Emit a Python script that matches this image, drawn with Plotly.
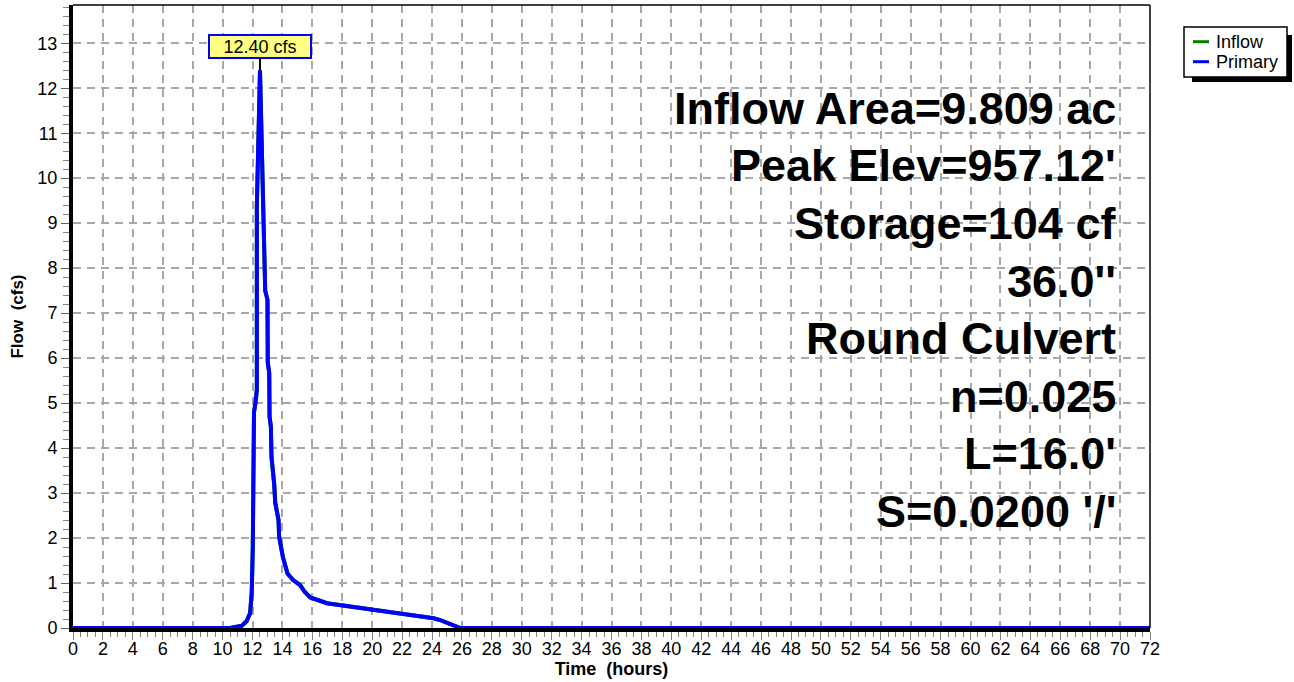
import plotly.graph_objects as go

# ---------------- data ----------------
time_hr = [0, 10.5, 11.29, 11.6, 11.84, 11.92, 11.95, 12.02, 12.06, 12.1, 12.2, 12.29, 12.29,
           12.4, 12.5, 12.6, 12.73, 12.8, 12.85, 13.0, 13.02, 13.12, 13.14, 13.23, 13.27, 13.45,
           13.52, 13.74, 13.78, 14.03, 14.34, 14.7, 15.19, 15.5, 15.86, 16.98, 18.0, 20.0, 22.0,
           24.11, 24.6, 25.45, 25.9, 72]
flow_cfs = [0, 0, 0.05, 0.15, 0.33, 0.6, 0.8, 1.8, 3.0, 4.8, 5.0, 5.3, 9.36,
            11.5, 12.40, 11.0, 9.5, 8.0, 7.5, 7.3, 5.9, 5.67, 4.7, 4.47, 3.8, 3.2,
            2.78, 2.4, 2.03, 1.58, 1.21, 1.07, 0.95, 0.8, 0.68, 0.55, 0.5, 0.42, 0.32,
            0.215, 0.17, 0.07, 0.0, 0]
inflow_cfs = flow_cfs[:]
peak_time = 12.5
peak_flow = 12.40
peak_label = "12.40 cfs"
x_ticks = list(range(0, 73, 2))
y_ticks = list(range(0, 14))
series_names = ["Inflow", "Primary"]
series_colors = ["#008000", "#0000ff"]
info_lines = ["Inflow Area=9.809 ac", "Peak Elev=957.12'", "Storage=104 cf", "36.0''",
              "Round Culvert", "n=0.025", "L=16.0'", "S=0.0200 '/'"]

# ---------------- layout geometry ----------------
W, H = 1294, 682
ML, MR, MT, MB = 73, 144, 5, 54
PW, PH = W - ML - MR, H - MT - MB
FONT = "Liberation Sans, Arial, sans-serif"


def px_x(px):
    return (px - ML) / PW


def px_y(py):
    return (H - MB - py) / PH


fig = go.Figure()
fig.add_trace(go.Scatter(x=time_hr, y=inflow_cfs, mode="lines", name=series_names[0],
                         line=dict(color=series_colors[0], width=4)))
fig.add_trace(go.Scatter(x=time_hr, y=flow_cfs, mode="lines", name=series_names[1],
                         line=dict(color=series_colors[1], width=4)))

grid = dict(showgrid=True, gridcolor="#a8a8a8", gridwidth=1.5, griddash="8px,6px")

fig.update_xaxes(range=[0, 72], tickvals=x_ticks, ticks="outside", ticklen=8, tickwidth=1,
                 tickcolor="#808080", showline=True, linewidth=4, linecolor="black",
                 zeroline=False, tickfont=dict(family=FONT, size=18, color="black"),
                 ticklabelstandoff=-7,
                 minor=dict(dtick=0.5, ticks="outside", ticklen=5, tickcolor="#808080", showgrid=False),
                 title=dict(text="<b>Time\u00a0 (hours)</b>", font=dict(family=FONT, size=18, color="black"),
                            standoff=2),
                 **grid)
fig.update_yaxes(range=[0, 13.85], tickvals=y_ticks, ticks="outside", ticklen=8, tickwidth=1,
                 tickcolor="#606060", showline=True, linewidth=4, linecolor="black",
                 zeroline=False, tickfont=dict(family=FONT, size=18, color="black"),
                 minor=dict(dtick=0.2, ticks="outside", ticklen=6, tickcolor="#808080", showgrid=False),
                 title=dict(text="<b>Flow\u00a0 (cfs)</b>", font=dict(family=FONT, size=17, color="black"),
                            standoff=10),
                 **grid)

shapes = [
    # top and right frame lines
    dict(type="line", xref="paper", yref="paper", x0=0, x1=1, y0=1, y1=1,
         line=dict(color="black", width=1.5)),
    dict(type="line", xref="paper", yref="paper", x0=1, x1=1, y0=0, y1=1,
         line=dict(color="black", width=1.5)),
    # legend shadow and box
    dict(type="rect", xref="paper", yref="paper", x0=px_x(1192), x1=px_x(1292),
         y0=px_y(82), y1=px_y(35), fillcolor="black", line=dict(width=0)),
    dict(type="rect", xref="paper", yref="paper", x0=px_x(1184), x1=px_x(1287),
         y0=px_y(77), y1=px_y(27), fillcolor="white", line=dict(color="black", width=1.5)),
]

annotations = [
    dict(x=peak_time, y=peak_flow, xref="x", yref="y", text=peak_label, showarrow=True,
         arrowhead=0, arrowwidth=2, arrowcolor="black", ax=0, ay=-24,
         bgcolor="#ffff80", bordercolor="#0000ff", borderwidth=2, borderpad=1,
         width=98, height=19, font=dict(family=FONT, size=18, color="black")),
]
for i, line in enumerate(info_lines):
    annotations.append(dict(x=px_x(1118), y=px_y(108.3 + 57.6 * i), xref="paper", yref="paper",
                            xanchor="right", yanchor="middle", showarrow=False, text=line,
                            font=dict(family=FONT, size=45, color="black", weight="bold")))

# legend entries (manual, to match the original compact legend)
for i, (nm, col) in enumerate(zip(series_names, series_colors)):
    yc = 41.7 + 20 * i
    shapes.append(dict(type="line", xref="paper", yref="paper", x0=px_x(1193), x1=px_x(1209),
                       y0=px_y(yc), y1=px_y(yc), line=dict(color=col, width=3)))
    annotations.append(dict(x=px_x(1214), y=px_y(yc), xref="paper", yref="paper",
                            xanchor="left", yanchor="middle", showarrow=False, text=nm,
                            font=dict(family=FONT, size=18, color="black")))

fig.update_layout(
    width=W, height=H, margin=dict(l=ML, r=MR, t=MT, b=MB, autoexpand=False),
    paper_bgcolor="white", plot_bgcolor="white",
    shapes=shapes, annotations=annotations,
    showlegend=False,
)

fig.write_html("out.html", config={"displayModeBar": False},
               post_script="document.body.style.margin='0px';document.body.style.overflow='hidden';")
